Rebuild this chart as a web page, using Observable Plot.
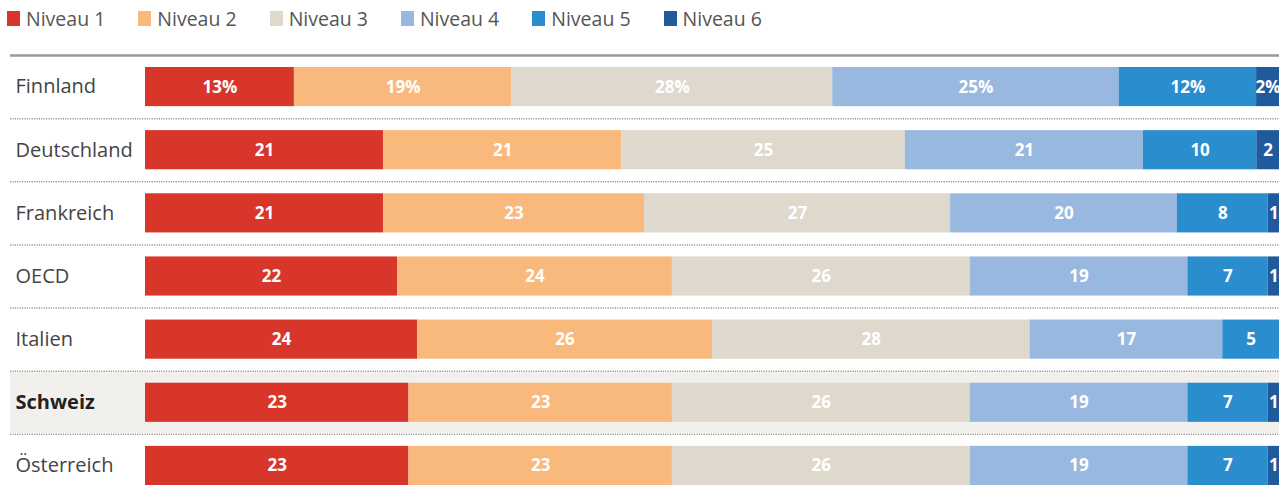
<!DOCTYPE html>
<html>
<head>
<meta charset="utf-8">
<script src="https://cdn.jsdelivr.net/npm/d3@7"></script>
<script src="https://cdn.jsdelivr.net/npm/@observablehq/plot@0.6"></script>
<style>
  html, body { margin: 0; padding: 0; background: #fff; }
  body { width: 1285px; height: 493px; overflow: hidden; font-family: "Open Sans", sans-serif; }
  #legend { height: 37px; display: flex; align-items: center; padding-left: 7px; gap: 33px; }
  #legend .item { display: flex; align-items: center; font-size: 19.5px; color: #555; }
  #legend .sw { width: 13px; height: 15px; margin-right: 6px; display: inline-block; }
</style>
</head>
<body>
<div id="legend"></div>
<div id="chart"></div>
<script>
const countries = ["Finnland", "Deutschland", "Frankreich", "OECD", "Italien", "Schweiz", "Österreich"];
const levels = ["Niveau 1", "Niveau 2", "Niveau 3", "Niveau 4", "Niveau 5", "Niveau 6"];
const colors = ["#d8352b", "#f9b97c", "#ded8cd", "#99b8e0", "#2a8dcd", "#1f5a9c"];
const niveau1 = [13, 21, 21, 22, 24, 23, 23];
const niveau2 = [19, 21, 23, 24, 26, 23, 23];
const niveau3 = [28, 25, 27, 26, 28, 26, 26];
const niveau4 = [25, 21, 20, 19, 17, 19, 19];
const niveau5 = [12, 10, 8, 7, 5, 7, 7];
const niveau6 = [2, 2, 1, 1, 0, 1, 1];
const highlighted = "Schweiz";
const percentRow = "Finnland";

const series = [niveau1, niveau2, niveau3, niveau4, niveau5, niveau6];
const data = [];
countries.forEach((c, i) => {
  series.forEach((s, j) => {
    if (s[i] > 0) data.push({country: c, level: levels[j], value: s[i]});
  });
});

// Legend
const legend = document.getElementById("legend");
levels.forEach((l, i) => {
  const it = document.createElement("div");
  it.className = "item";
  const sw = document.createElement("span");
  sw.className = "sw";
  sw.style.background = colors[i];
  it.appendChild(sw);
  it.appendChild(document.createTextNode(l));
  legend.appendChild(it);
});

const H = 456;
const y0 = 18, y1 = 460;
const step = (y1 - y0) / countries.length;

const chart = Plot.plot({
  width: 1285,
  height: H,
  marginLeft: 145,
  marginRight: 6,
  marginTop: 0,
  marginBottom: 0,
  style: {fontFamily: "Open Sans, sans-serif", background: "white", overflow: "visible"},
  x: {domain: [0, 1], axis: null},
  y: {domain: countries, range: [y0, y1], padding: 0, axis: null, round: false},
  color: {domain: levels, range: colors},
  marks: [
    Plot.barX([highlighted], {y: d => d, x1: 0, x2: 1, insetLeft: -135, insetTop: 1, insetBottom: 1, fill: "#f2f0ec"}),
    Plot.barX(data, Plot.stackX({x: "value", y: "country", fill: "level", offset: "normalize", insetTop: 12, insetBottom: 12})),
    Plot.text(data, Plot.stackX({
      x: "value", y: "country", offset: "normalize",
      text: d => d.country === percentRow ? `${d.value}%` : `${d.value}`,
      fill: "white", fontWeight: "bold", fontSize: 17
    })),
    Plot.ruleY(countries.slice(0, -1), {y: d => d, dy: step / 2, stroke: "#9a9a9a", strokeWidth: 1.5, strokeDasharray: "1.2,1.2", insetLeft: -135}),
    Plot.ruleY(countries.slice(0, 1), {y: d => d, dy: -step / 2, stroke: "#999", strokeWidth: 2.5, insetLeft: -135}),
    Plot.text(countries.filter(c => c !== highlighted), {y: d => d, text: d => d, frameAnchor: "left", dx: -130, textAnchor: "start", fontSize: 20, fill: "#444", letterSpacing: 0.4}),
    Plot.text([highlighted], {y: d => d, text: d => d, frameAnchor: "left", dx: -130, textAnchor: "start", fontSize: 20, fill: "#222", fontWeight: "bold"})
  ]
});
document.getElementById("chart").appendChild(chart);
</script>
</body>
</html>
